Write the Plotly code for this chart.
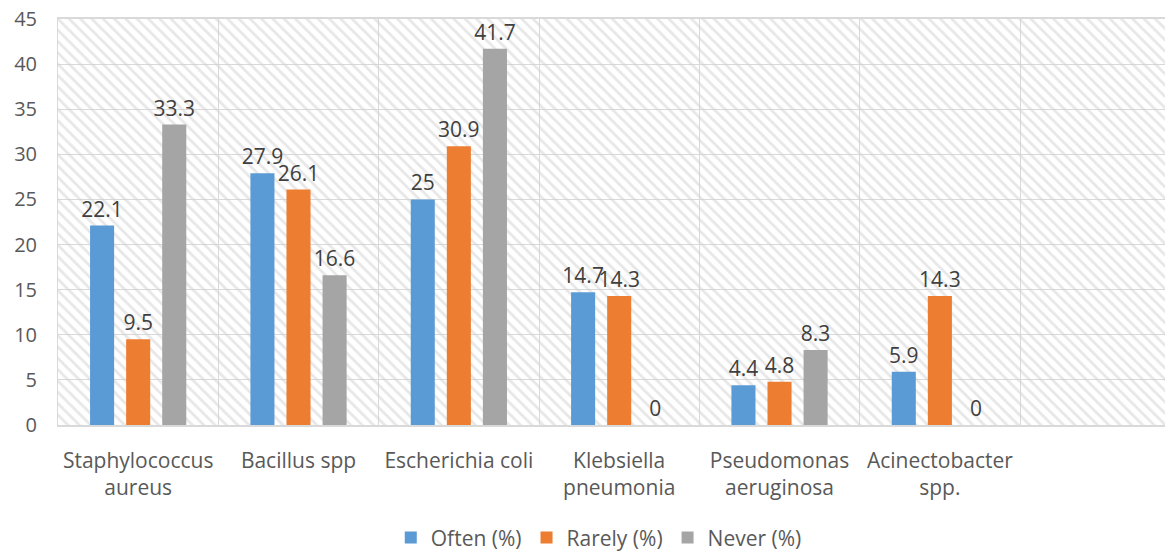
import plotly.graph_objects as go

categories = ["Staphylococcus<br>aureus", "Bacillus spp", "Escherichia coli",
              "Klebsiella<br>pneumonia", "Pseudomonas<br>aeruginosa", "Acinectobacter<br>spp."]
often = [22.1, 27.9, 25, 14.7, 4.4, 5.9]
rarely = [9.5, 26.1, 30.9, 14.3, 4.8, 14.3]
never = [33.3, 16.6, 41.7, 0, 8.3, 0]
series_names = ["Often (%)", "Rarely (%)", "Never (%)"]
colors = ["#5b9bd5", "#ed7d31", "#a5a5a5"]
y_ticks = list(range(0, 50, 5))

FONT = "Open Sans"
TXT = "#595959"

fig = go.Figure()

# hatched plot-area background on hidden base axes
fig.add_trace(go.Scatter(
    x=[0, 1, 1, 0, 0], y=[0, 0, 1, 1, 0], mode="none", fill="toself",
    fillcolor="rgba(0,0,0,0)",
    fillpattern=dict(shape="\\", fgcolor="#d0d0d0", bgcolor="rgba(0,0,0,0)",
                     size=8, solidity=0.35),
    hoverinfo="skip", showlegend=False, xaxis="x", yaxis="y"))

for name, vals, col in zip(series_names, [often, rarely, never], colors):
    fig.add_trace(go.Bar(
        x=categories, y=vals, name=name, marker_color=col, marker_line_width=0,
        text=[f"{v:g}" for v in vals], textposition="outside", constraintext="none",
        textfont=dict(family=FONT, size=21, color="#404040"),
        cliponaxis=False, xaxis="x2", yaxis="y2"))

# page body adds an 8px offset, so the figure is 8px smaller and margins shifted
fig.update_layout(
    width=1165, height=544,
    margin=dict(l=50, r=0, t=11, b=127, autoexpand=False),
    paper_bgcolor="white", plot_bgcolor="white",
    font=dict(family=FONT, size=21, color=TXT),
    barmode="group", bargap=0.325, bargroupgap=0.333,
    xaxis=dict(range=[0, 1], visible=False, fixedrange=True, automargin=False),
    yaxis=dict(range=[0, 1], visible=False, fixedrange=True, automargin=False),
    xaxis2=dict(overlaying="x", type="category", categoryorder="array",
                categoryarray=categories, range=[-0.5, 6.454], automargin=False,
                tickson="boundaries", showgrid=True, gridcolor="#d9d9d9", gridwidth=1,
                ticks="", showline=True, linecolor="#d9d9d9", linewidth=1.5, mirror=True,
                tickfont=dict(family=FONT, size=21, color=TXT), ticklabelstandoff=16),
    yaxis2=dict(overlaying="y", range=[0, 45], tickvals=y_ticks, showgrid=True,
                automargin=False, ticklabeloverflow="allow",
                gridcolor="#d9d9d9", gridwidth=1, zeroline=False, showline=True,
                linecolor="#d9d9d9", linewidth=1, ticks="",
                tickfont=dict(family=FONT, size=20, color=TXT), ticklabelstandoff=16),
    legend=dict(orientation="h", x=0.485, xanchor="center", y=-0.278, yanchor="middle",
                font=dict(family=FONT, size=21, color=TXT), itemwidth=30),
)

fig.write_html("out.html")
